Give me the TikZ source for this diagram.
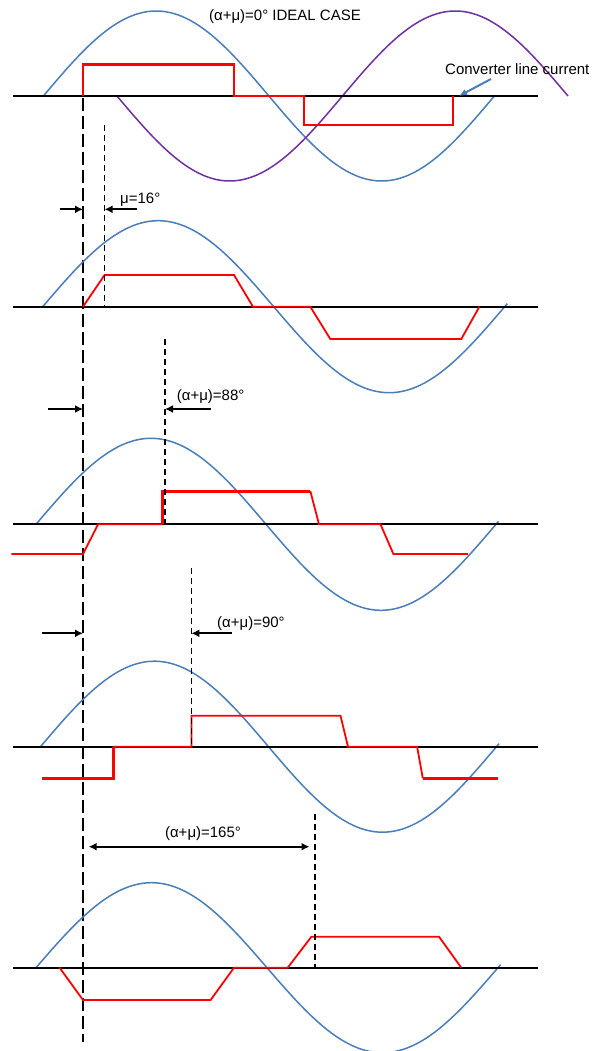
\documentclass[tikz,border=0pt]{standalone}
\usepackage{fontspec}
\setmainfont{Liberation Sans}
\usepackage{xcolor}
\definecolor{SINECOLOR}{RGB}{74,126,187}
\definecolor{SHIFTCOLOR}{RGB}{112,48,160}
\colorlet{CURRENTCOLOR}{red}
\usepackage{tikz}
\usetikzlibrary{arrows.meta,calc}
\tikzset{
  sine-style/.style = {
    draw=#1, line width=1.5pt
  },
  sine-style/.default = SINECOLOR,
  axis-style/.style = {
    draw=black, line width=2pt
  },
  current-style/.style = {
    draw=CURRENTCOLOR, line width=#1
  },
  current-style/.default = 1.8pt,
  fire-style/.style = {
    draw=black, line width=1.5pt, dash pattern=on 13pt off 5pt
  },
  overlap-style/.style = {
    draw=black, line width=1.6pt, dash pattern=on 6pt off 4pt
  },
  gap-style/.style = {
    draw=black, line width=2pt, ->, >={Latex[length=8pt,width=8pt]}
  },
  pointer-style/.style = {
    draw=SINECOLOR, line width=2pt, ->, >={Latex[length=8pt,width=7pt]}
  },
  label-style/.style = {
    inner sep=0pt, anchor=#1
  },
  label-style/.default = west
}
\def\drawSine start:#1 base:#2 period:#3 amp:#4 end:#5;{
  \draw[sine-style] plot[domain=0:#5, samples=100, smooth]
    ({#1+\x/360*#3}, {#2-#4*sin(\x)});
}
\def\createAxis name:#1 at:#2;{
  \coordinate (#1-w) at (13,#2);
  \coordinate (#1-e) at (538,#2);
  \draw[axis-style] (#1-w) -- (#1-e);
}
\def\createOverlap name:#1 at:#2 from:#3 to:#4;{
  \coordinate (#1-top) at (#2,#3);
  \coordinate (#1-bot) at (#2,#4);
  \draw[overlap-style] (#1-top) -- (#1-bot);
}
\def\createGap name:#1 at:#2 left:#3 right:#4 to:#5;{
  \coordinate (#1-l) at (#3,#2);
  \coordinate (#1-r) at (#4,#2);
  \draw[gap-style] (#1-l) -- (#1-l -| fire-top);
  \draw[gap-style] (#1-r) -- (#1-r -| #5-top);
}

\begin{document}
\begin{tikzpicture}[x=1pt, y=-1pt, font=\fontsize{15}{17}\selectfont]
  \path[fill=white, use as bounding box] (0,0) rectangle (592,1051);

  % ideal case
  \drawSine start:43.4 base:96 period:451 amp:85 end:360;
  \draw[sine-style=SHIFTCOLOR] plot[domain=0:360, samples=100, smooth]
    ({117+\x/360*451}, {96+85*sin(\x)});
  \createAxis name:axis1 at:96;
  \draw[current-style=2.6pt] (83,96) -- (83,64.3) -- (234,64.3) -- (234,96)
    -- (304,96) -- (304,125) -- (453,125) -- (453,96);
  \node (title) at (285,17) {(α+μ)=0° IDEAL CASE};
  \node[label-style] (conv-lbl) at (445,69) {Converter line current};
  \coordinate (conv-tail) at (491,79);
  \coordinate (cur1-tip) at (459,96);
  \draw[pointer-style] (conv-tail) -- (cur1-tip);

  % firing instant
  \coordinate (fire-top) at (83,98);
  \coordinate (fire-bot) at (83,1042);
  \draw[fire-style] (fire-top) -- (fire-bot);

  % mu = 16
  \drawSine start:42.7 base:306.7 period:462 amp:86 end:362;
  \createAxis name:axis2 at:306.7;
  \draw[current-style] (83,306.7) -- (104.6,275) -- (234,275) -- (253,306.7)
    -- (310.3,306.7) -- (330.3,339) -- (461.3,339) -- (479.4,306.7);
  \createOverlap name:ovl2 at:104.6 from:125 to:306.7;
  \createGap name:gap2 at:209.3 left:59.6 right:136.7 to:ovl2;
  \node[label-style] (lbl2) at (120,200) {μ=16°};

  % alpha+mu = 88
  \drawSine start:36 base:524.3 period:460 amp:86 end:362;
  \createAxis name:axis3 at:524.3;
  \draw[current-style] (11.3,554) -- (83,554) -- (98.1,524.3) -- (162.3,524.3);
  \draw[current-style=3pt] (162.3,524.3) -- (162.3,491) -- (310.3,491);
  \draw[current-style] (310.3,491) -- (319,524.3) -- (380.5,524.3)
    -- (393.4,554) -- (468,554);
  \createOverlap name:ovl3 at:165 from:339 to:524.3;
  \createGap name:gap3 at:409 left:48.3 right:210.6 to:ovl3;
  \node[label-style] (lbl3) at (176.7,397) {(α+μ)=88°};

  % alpha+mu = 90
  \drawSine start:40.5 base:746.7 period:456 amp:85.5 end:362;
  \createAxis name:axis4 at:746.7;
  \draw[current-style=2.6pt] (42.3,778.3) -- (113.2,778.3) -- (113.2,746.7);
  \draw[current-style] (113.2,746.7) -- (191.4,746.7) -- (191.4,715.7)
    -- (340.5,715.7) -- (348,746.7) -- (417.1,746.7) -- (422.8,778.3);
  \draw[current-style=2.6pt] (422.8,778.3) -- (497.5,778.3);
  \createOverlap name:ovl4 at:191.4 from:568 to:746.7;
  \createGap name:gap4 at:633.3 left:41.5 right:232 to:ovl4;
  \node[label-style] (lbl4) at (217,624) {(α+μ)=90°};

  % alpha+mu = 165
  \drawSine start:36 base:967.7 period:462 amp:85 end:362;
  \createAxis name:axis5 at:967.7;
  \draw[current-style] (59.6,967.7) -- (83,1000) -- (210.6,1000) -- (234,967.7)
    -- (287.7,967.7) -- (311.4,936.7) -- (439,936.7) -- (461.3,967.7);
  \createOverlap name:ovl5 at:315.2 from:814 to:967.7;
  \coordinate (gap5-l) at (88.7,846.7);
  \coordinate (gap5-r) at (309.5,846.7);
  \draw[gap-style, <->] (gap5-l) -- (gap5-r);
  \node (lbl5) at (203,834) {(α+μ)=165°};
\end{tikzpicture}
\end{document}
